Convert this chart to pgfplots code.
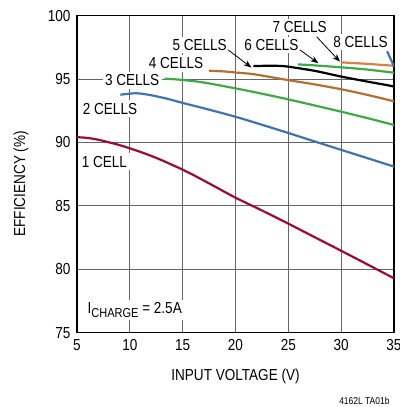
\documentclass[border=0pt]{standalone}
\usepackage{fontspec}
\setmainfont{Liberation Sans}[FakeStretch=0.85]
\usepackage{pgfplots}
\pgfplotsset{compat=1.18}
\usetikzlibrary{arrows.meta}
\definecolor{cred}{HTML}{9E0A36}
\definecolor{cblue}{HTML}{3F73AE}
\definecolor{cgreen}{HTML}{3DAA45}
\definecolor{cbrown}{HTML}{B5702F}
\definecolor{corange}{HTML}{D98049}
\tikzset{lbl/.style={fill=white, inner sep=2.5bp, font=\fontsize{16}{18}\selectfont}}
\begin{document}
\begin{tikzpicture}
\useasboundingbox (-77bp,-74.3bp) rectangle (323bp,332.7bp);
\begin{axis}[
 at={(0,0)}, anchor=south west,
 scale only axis, width=317bp, height=317bp,
 xmin=5, xmax=35, ymin=75, ymax=100,
 xtick={5,10,...,35}, ytick={75,80,...,100},
 grid=major, major grid style={black!60, line width=0.9bp},
 axis line style={line width=1.2bp},
 tick style={draw=none},
 /pgf/number format/assume math mode=true,
 tick label style={font=\fontsize{16}{18}\selectfont},
 xticklabel style={yshift=-3bp},
 yticklabel style={xshift=-3bp},
 label style={font=\fontsize{16}{18}\selectfont},
 xlabel={INPUT VOLTAGE (V)}, ylabel={EFFICIENCY (\%)},
 xlabel style={at={(axis description cs:0.5,-0.138)},anchor=center},
 ylabel style={at={(axis description cs:-0.177,0.47)},anchor=center},
 every axis plot/.append style={line width=2.2bp, no marks},
]
% 1 cell
\addplot[cred, smooth] coordinates {
(5,90.42) (6,90.36) (7,90.22) (8,90.02) (9,89.8) (10,89.54) (11,89.26) (12,88.95)
(13,88.61) (14,88.24) (15,87.86) (16,87.44) (17,87.0) (18,86.55) (20,85.65)
(22.5,84.64) (25,83.6) (27.5,82.53) (30,81.46) (32.5,80.38) (35,79.29)};
% 2 cells
\addplot[cblue, smooth] coordinates {
(9.1,93.77) (10,93.85) (10.5,93.88) (11,93.86) (12,93.73) (13.5,93.46) (15,93.12)
(17,92.7) (20,92.03) (22.5,91.4) (25,90.75) (27.5,90.08) (30,89.42) (32.5,88.76) (35,88.1)};
% 3 cells
\addplot[cgreen, smooth] coordinates {
(13.3,95.03) (14,95.0) (15,94.93) (17,94.73) (20,94.27) (22.5,93.85) (25,93.4)
(27.5,92.92) (30,92.43) (32.5,91.92) (35,91.38)};
% 4 cells
\addplot[cbrown, smooth] coordinates {
(17.5,95.66) (19,95.6) (20,95.52) (21.4,95.42) (22.5,95.28) (25,94.92) (27.5,94.58)
(30,94.2) (32.5,93.75) (35,93.25)};
% 5 cells
\addplot[black, smooth] coordinates {
(21.7,96.03) (23,96.05) (24.2,96.04) (25,95.98) (27.5,95.65) (30,95.2) (32.5,94.8) (34.5,94.5) (35,94.4)};
% 6 cells
\addplot[cgreen, smooth] coordinates {
(25.9,96.16) (27.5,96.08) (30,95.93) (32.5,95.75) (35,95.5)};
% 7 cells
\addplot[corange, smooth] coordinates {
(30,96.32) (32.5,96.2) (35,96.05)};
% 8 cells
\addplot[cblue] coordinates {(34.35,97.2) (35,96.0)};

\node[lbl, anchor=west] at (axis cs:5.2,88.5) {1 CELL};
\node[lbl, anchor=west] at (axis cs:5.3,92.68) {2 CELLS};
\node[lbl, anchor=west] at (axis cs:7.4,94.89) {3 CELLS};
\node[lbl] at (axis cs:14.37,96.23) {4 CELLS};
\node[lbl] at (axis cs:16.61,97.67) {5 CELLS};
\node[lbl] at (axis cs:23.4,97.69) {6 CELLS};
\node[lbl] at (axis cs:26.07,99.13) {7 CELLS};
\node[lbl] at (axis cs:31.83,97.95) {8 CELLS};
\node[lbl, anchor=west] at (axis cs:5.75,76.79) {I\raisebox{-4bp}{\fontsize{13}{13}\selectfont CHARGE} = 2.5A};

\draw[-{Stealth[length=8bp,width=6bp]}, line width=0.8bp] (axis cs:19.31,97.30) -- (axis cs:21.51,95.91);
\draw[-{Stealth[length=8bp,width=6bp]}, line width=0.8bp] (axis cs:26.10,97.30) -- (axis cs:27.84,96.25);
\draw[-{Stealth[length=8bp,width=6bp]}, line width=0.8bp] (axis cs:27.68,98.34) -- (axis cs:29.89,96.37);
\end{axis}
\node[anchor=east, font=\fontsize{10}{12}\selectfont] at (316bp,-68.5bp) {4162L TA01b};
\end{tikzpicture}
\end{document}
